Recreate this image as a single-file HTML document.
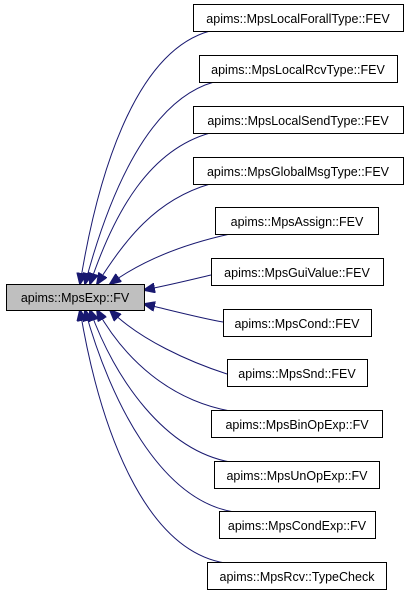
<!DOCTYPE html>
<html><head><style>
body{margin:0;background:#fff;width:413px;height:595px;overflow:hidden}
svg{display:block}
text{font-family:"Liberation Sans",Arial,sans-serif;font-size:12.5px;fill:#000}
</style></head><body>
<svg width="413" height="595" viewBox="0 0 413 595">
<defs><marker id="a" markerWidth="12" markerHeight="10" refX="11" refY="5" orient="auto" markerUnits="userSpaceOnUse"><path d="M0,0 L12,5 L0,10 z" fill="#191970" stroke="#191970"/></marker></defs>
<g fill="none" stroke="#191970" stroke-width="1">
<path d="M210,31 C140,50 100,160 80,284" marker-end="url(#a)"/>
<path d="M214,82 C150,100 110,190 85,284" marker-end="url(#a)"/>
<path d="M210,133 C150,150 115,210 90,284" marker-end="url(#a)"/>
<path d="M210,184 C155,200 125,240 97,284" marker-end="url(#a)"/>
<path d="M230,234 C180,245 140,262 110,284" marker-end="url(#a)"/>
<path d="M211,275 C190,280 170,285 144,290" marker-end="url(#a)"/>
<path d="M223,322 C200,318 170,310 144,304" marker-end="url(#a)"/>
<path d="M227,374 C190,362 140,340 110,310" marker-end="url(#a)"/>
<path d="M230,411 C170,400 125,360 97,310" marker-end="url(#a)"/>
<path d="M230,462 C165,450 115,380 90,310" marker-end="url(#a)"/>
<path d="M234,512 C160,500 110,400 85,310" marker-end="url(#a)"/>
<path d="M225,563 C145,550 100,430 80,310" marker-end="url(#a)"/>
</g>
<g stroke="#000" stroke-width="1">
<rect x="6.5" y="284.5" width="138" height="26" fill="#bfbfbf"/>
<g fill="#fff">
<rect x="193.5" y="4.5" width="210" height="27"/>
<rect x="199.5" y="55.5" width="198" height="27"/>
<rect x="193.5" y="106.5" width="210" height="27"/>
<rect x="193.5" y="157.5" width="210" height="27"/>
<rect x="215.5" y="207.5" width="163" height="27"/>
<rect x="211.5" y="258.5" width="172" height="27"/>
<rect x="223.5" y="309.5" width="148" height="27"/>
<rect x="227.5" y="359.5" width="140" height="27"/>
<rect x="211.5" y="410.5" width="171" height="27"/>
<rect x="214.5" y="461.5" width="165" height="27"/>
<rect x="219.5" y="511.5" width="156" height="27"/>
<rect x="207.5" y="562.5" width="179" height="27"/>
</g></g>
<g text-anchor="middle">
<text x="75" y="302">apims::MpsExp::FV</text>
<text x="298" y="23">apims::MpsLocalForallType::FEV</text>
<text x="298" y="74">apims::MpsLocalRcvType::FEV</text>
<text x="298" y="125">apims::MpsLocalSendType::FEV</text>
<text x="298" y="176">apims::MpsGlobalMsgType::FEV</text>
<text x="297" y="226">apims::MpsAssign::FEV</text>
<text x="297" y="277">apims::MpsGuiValue::FEV</text>
<text x="297" y="328">apims::MpsCond::FEV</text>
<text x="297" y="378">apims::MpsSnd::FEV</text>
<text x="297" y="429">apims::MpsBinOpExp::FV</text>
<text x="297" y="480">apims::MpsUnOpExp::FV</text>
<text x="297" y="530">apims::MpsCondExp::FV</text>
<text x="297" y="581">apims::MpsRcv::TypeCheck</text>
</g>
</svg>
</body></html>
